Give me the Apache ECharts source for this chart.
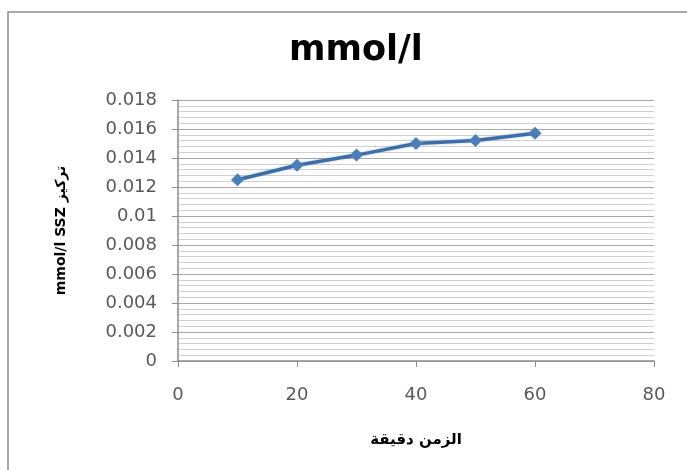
<!DOCTYPE html>
<html>
<head>
<meta charset="utf-8">
<script src="https://cdn.jsdelivr.net/npm/echarts@6/dist/echarts.min.js"></script>
<style>
  html, body { margin: 0; padding: 0; background: #fff; }
  #chart { width: 687px; height: 470px; }
</style>
</head>
<body>
<div id="chart"></div>
<script>
// Time in minutes and measured SSZ concentration (mmol/l)
const timeMinutes = [10, 20, 30, 40, 50, 60];
const concentration = [0.0125, 0.0135, 0.0142, 0.0150, 0.0152, 0.0157];

const chartTitle = 'mmol/l';
const xAxisTitle = 'الزمن دقيقة';
const yAxisTitle = 'mmol/l SSZ تركيز';

const xTicks = { min: 0, max: 80, step: 20 };
const yTicks = { min: 0, max: 0.018, step: 0.002 };

const chart = echarts.init(document.getElementById('chart'), null, { renderer: 'canvas' });

chart.setOption({
  backgroundColor: '#ffffff',
  animation: false,
  graphic: [{
    type: 'rect',
    shape: { x: 8, y: 12, width: 700, height: 480 },
    style: { fill: 'none', stroke: '#8c8c8c', lineWidth: 1.5 },
    silent: true
  }],
  title: {
    text: chartTitle,
    left: 284,
    top: 28,
    textStyle: {
      fontFamily: 'DejaVu Sans',
      fontWeight: 'bold',
      fontSize: 35,
      color: '#000'
    }
  },
  grid: { left: 178, right: 33, top: 100, bottom: 109 },
  xAxis: {
    type: 'value',
    min: xTicks.min,
    max: xTicks.max,
    interval: xTicks.step,
    name: xAxisTitle,
    nameLocation: 'middle',
    nameGap: 72,
    nameTextStyle: {
      fontFamily: 'DejaVu Sans',
      fontWeight: 'bold',
      fontSize: 15,
      color: '#000'
    },
    axisLine: { show: true, lineStyle: { color: '#8c8c8c', width: 1.5 } },
    axisTick: { show: true, length: 6, lineStyle: { color: '#8c8c8c' } },
    axisLabel: {
      margin: 25,
      fontFamily: 'DejaVu Sans',
      fontSize: 18,
      color: '#595959'
    },
    splitLine: { show: false }
  },
  yAxis: {
    type: 'value',
    min: yTicks.min,
    max: yTicks.max,
    interval: yTicks.step,
    name: yAxisTitle,
    nameLocation: 'middle',
    nameRotate: 90,
    nameGap: 110,
    nameTextStyle: {
      fontFamily: 'DejaVu Sans',
      fontWeight: 'bold',
      fontSize: 14,
      color: '#000'
    },
    axisLine: { show: true, lineStyle: { color: '#8c8c8c', width: 1.5 } },
    axisTick: { show: true, length: 6, lineStyle: { color: '#8c8c8c' } },
    axisLabel: {
      margin: 21,
      fontFamily: 'DejaVu Sans',
      fontSize: 18,
      color: '#595959',
      formatter: v => String(Number(v.toFixed(3)))
    },
    splitLine: { show: true, lineStyle: { color: '#a8a8a8', width: 1.2 } },
    minorTick: { show: false, splitNumber: 5 },
    minorSplitLine: { show: true, lineStyle: { color: '#d0d0d0', width: 1.2 } }
  },
  series: [{
    type: 'line',
    data: timeMinutes.map((t, i) => [t, concentration[i]]),
    symbol: 'diamond',
    symbolSize: 13,
    itemStyle: { color: '#4a7ebb' },
    lineStyle: {
      color: '#3e6ea8',
      width: 3.5,
      shadowColor: 'rgba(74,126,187,0.35)',
      shadowBlur: 3
    },
    z: 3
  }]
});
</script>
</body>
</html>
